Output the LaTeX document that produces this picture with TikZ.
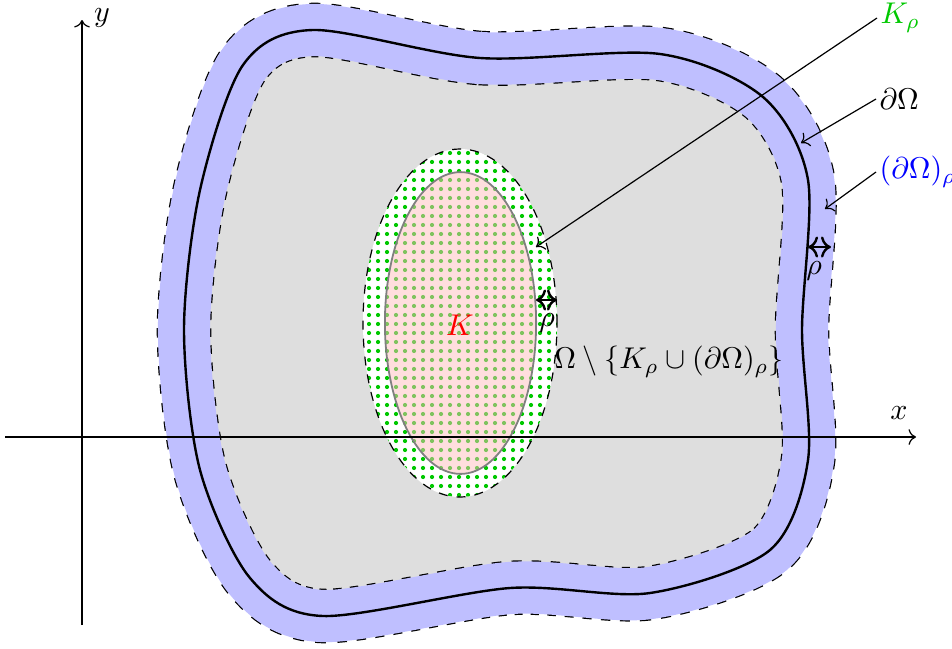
\documentclass[tikz,border=0pt]{standalone}
\usetikzlibrary{patterns,patterns.meta,arrows.meta}
\definecolor{kgreen}{RGB}{0,200,0}
\tikzdeclarepattern{
  name=bigdots,
  type=uncolored,
  bounding box={(-1.5pt,-1.5pt) and (1.5pt,1.5pt)},
  tile size={(3pt,3pt)},
  code={\pgfpathcircle{\pgfpointorigin}{0.7pt}\pgfusepath{fill}}
}
\tikzset{
  lbl/.style={inner sep=1pt, anchor=west},
  bandedge/.style={draw=black, dashed, line width=18.2pt},
  bandfill/.style={draw=blue!25, line width=17.4pt},
  bdry/.style={draw=black, line width=0.8pt},
  pointer/.style={->, line width=0.4pt},
  rhoarrow/.style={<->, line width=0.8pt},
}
\begin{document}
\begin{tikzpicture}[x=0.33333pt,y=-0.33333pt]
\useasboundingbox (0,0) rectangle (952,648);
\def\omegapath{plot[smooth cycle] coordinates {(313,30) (480,58) (660,54) (763,97) (808,180) (802,330) (808,460) (770,550) (650,593) (510,588) (323,616) (250,578) (200,470) (184,330) (200,190) (243,65)}}
% Omega interior
\fill[black!13] \omegapath;
% band (dOmega)_rho
\draw[bandedge] \omegapath;
\draw[bandfill] \omegapath;
% boundary
\draw[bdry] \omegapath;
% K_rho
\fill[white] (460,323) ellipse [x radius=32.33pt, y radius=58pt];
\fill[pattern=bigdots, pattern color=kgreen] (460,323) ellipse [x radius=32.33pt, y radius=58pt];
\draw[dashed, line width=0.4pt] (460,323) ellipse [x radius=32.33pt, y radius=58pt];
% K
\fill[red!25, fill opacity=0.5] (460.5,323) ellipse [x radius=25.2pt, y radius=50.3pt];
\draw[gray, line width=0.6pt] (460.5,323) ellipse [x radius=25.2pt, y radius=50.3pt];
% axes
\coordinate (xs) at (5,437);
\coordinate (xe) at (916,437);
\coordinate (ys) at (82,625);
\coordinate (ye) at (82,20);
\draw[->, line width=0.4pt] (xs) -- (xe);
\draw[->, line width=0.4pt] (ys) -- (ye);
\node (xl) at (899,413) {$x$};
\node (yl) at (102,18) {$y$};
% labels
\node[lbl, text=kgreen] (lKr) at (877,18) {$K_\rho$};
\node[lbl] (lbd) at (876,99) {$\partial\Omega$};
\node[lbl, text=blue] (lbr) at (876,172) {$(\partial\Omega)_\rho$};
\coordinate (tKr) at (536,247);
\coordinate (tbd) at (801,143);
\coordinate (tbr) at (825,209);
\draw[pointer] (lKr.west) -- (tKr);
\draw[pointer] (lbd.west) -- (tbd);
\draw[pointer] (lbr.west) -- (tbr);
% rho arrows
\coordinate (r1a) at (808,247);
\coordinate (r1b) at (831,247);
\draw[rhoarrow] (r1a) -- (r1b);
\node (rho1) at (814,271) {$\rho$};
\coordinate (r2a) at (536,300);
\coordinate (r2b) at (557,300);
\draw[rhoarrow] (r2a) -- (r2b);
\node (rho2) at (547,323) {$\rho$};
\node[text=red] (Kl) at (460,325) {$K$};
\node (Oml) at (669,362) {$\Omega\setminus\{K_\rho\cup(\partial\Omega)_\rho\}$};
\end{tikzpicture}
\end{document}
